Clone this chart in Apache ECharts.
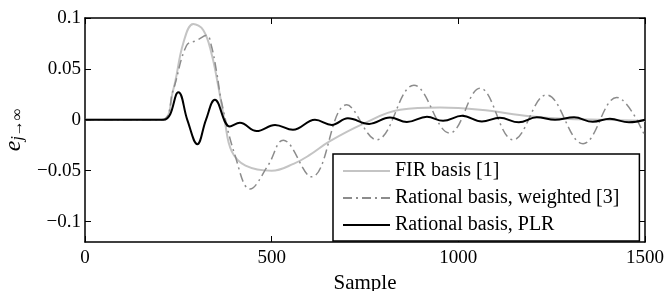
<!DOCTYPE html>
<html>
<head>
<meta charset="utf-8">
<script src="https://cdn.jsdelivr.net/npm/echarts@6/dist/echarts.min.js"></script>
<style>
  html, body { margin: 0; padding: 0; background: #fff; }
  #chart { width: 667px; height: 291px; }
</style>
</head>
<body>
<div id="chart"></div>
<script>
// x ticks / y ticks
const xTicks = [0, 500, 1000, 1500];
const yTicks = [-0.1, -0.05, 0, 0.05, 0.1];

// FIR basis [1]
const firX = [0, 205, 236, 263, 290, 317, 339, 357, 375, 393, 430, 500, 560, 600, 656, 745, 844, 951, 1058, 1192, 1280, 1400, 1500];
const firY = [0, 0, 0.029, 0.075, 0.094, 0.088, 0.065, 0.033, -0.003, -0.031, -0.045, -0.050, -0.043, -0.035, -0.021, -0.004, 0.0098, 0.012, 0.0098, 0.0035, 0.001, 0, -0.001];

// Rational basis, weighted [3]
const wX = [0, 205, 236, 272, 299, 326, 339, 353, 366, 402, 442, 490, 531, 607, 701, 781, 881, 977, 1058, 1147, 1236, 1334, 1424, 1500];
const wY = [0, 0, 0.029, 0.073, 0.078, 0.083, 0.072, 0.046, 0.017, -0.035, -0.068, -0.045, -0.020, -0.056, 0.0147, -0.0196, 0.034, -0.013, 0.031, -0.0196, 0.0245, -0.0235, 0.022, -0.016];

// Rational basis, PLR
const plrX = [0, 210, 250, 274, 301, 324, 348, 388, 415, 460, 509, 557, 616, 661, 704, 761, 817, 862, 916, 959, 1010, 1063, 1111, 1162, 1210, 1259, 1310, 1360, 1406, 1457, 1500];
const plrY = [0, 0, 0.027, 0, -0.024, 0, 0.0196, -0.0065, -0.003, -0.011, -0.005, -0.0098, 0, -0.005, 0.0015, -0.004, 0.0023, -0.0022, 0.003, -0.001, 0.0039, -0.0017, 0.002, -0.0025, 0.0025, 0, 0.0025, -0.002, 0.001, -0.0025, 0];

const zip = (xs, ys) => xs.map((x, i) => [x, ys[i]]);

const serif = '"Liberation Serif", "DejaVu Serif", serif';
const fmtY = v => (v === 0 ? '0' : String(+v.toFixed(2)).replace('-', '\u2212'));
const fmtX = v => String(Math.round(v));

const chart = echarts.init(document.getElementById('chart'));

const axisLine = { show: true, onZero: false, lineStyle: { color: '#000', width: 1.5 } };
const tick = { show: true, inside: true, length: 6, lineStyle: { color: '#000', width: 1 } };

const option = {
  animation: false,
  backgroundColor: '#fff',
  grid: { left: 85, right: 22, top: 18, bottom: 49, containLabel: false, outerBoundsMode: 'none' },
  xAxis: [{
    type: 'value', min: 0, max: 1500, interval: 500,
    name: 'Sample', nameLocation: 'middle', nameGap: 24,
    nameTextStyle: { fontFamily: serif, fontSize: 21, color: '#000' },
    axisLine: axisLine,
    axisTick: tick,
    axisLabel: { color: '#000', fontFamily: serif, fontSize: 19, margin: 7,
      customValues: xTicks, formatter: fmtX },
    splitLine: { show: false }
  }, {
    type: 'value', min: 0, max: 1500, interval: 500, position: 'top',
    axisLine: axisLine, axisTick: tick,
    axisLabel: { show: false }, splitLine: { show: false }
  }],
  yAxis: [{
    type: 'value', min: -0.12, max: 0.1,
    name: '{e|e}{s|j\u2192\u221e}', nameLocation: 'middle', nameGap: 58, nameRotate: 90,
    nameTextStyle: {
      color: '#000',
      rich: {
        e: { fontFamily: serif, fontStyle: 'italic', fontSize: 24, lineHeight: 24, color: '#000' },
        s: { fontFamily: serif, fontStyle: 'italic', fontSize: 16, lineHeight: 16, verticalAlign: 'bottom', color: '#000' }
      }
    },
    axisLine: axisLine,
    axisTick: Object.assign({}, tick, { customValues: yTicks }),
    axisLabel: { color: '#000', fontFamily: serif, fontSize: 19, margin: 4,
      customValues: yTicks, formatter: fmtY },
    splitLine: { show: false }
  }, {
    type: 'value', min: -0.12, max: 0.1, position: 'right',
    axisLine: axisLine,
    axisTick: Object.assign({}, tick, { customValues: yTicks }),
    axisLabel: { show: false }, splitLine: { show: false }
  }],
  legend: {
    orient: 'vertical',
    left: 333, top: 154,
    padding: [7, 20, 6, 9],
    itemWidth: 47, itemHeight: 14, itemGap: 7,
    itemStyle: { opacity: 0 },
    backgroundColor: '#fff',
    borderColor: '#000', borderWidth: 1.5,
    textStyle: { fontFamily: serif, fontSize: 20, color: '#000' },
    data: ['FIR basis [1]', 'Rational basis, weighted [3]', 'Rational basis, PLR']
  },
  series: [{
    name: 'FIR basis [1]', type: 'line', smooth: 0.4, symbol: 'none',
    data: zip(firX, firY),
    lineStyle: { color: '#c4c4c4', width: 2 }, itemStyle: { color: '#c4c4c4' }
  }, {
    name: 'Rational basis, weighted [3]', type: 'line', smooth: 0.4, symbol: 'none',
    data: zip(wX, wY),
    lineStyle: { color: '#8c8c8c', width: 1.5, type: [9, 4, 2, 4] }, itemStyle: { color: '#8c8c8c' }
  }, {
    name: 'Rational basis, PLR', type: 'line', smooth: 0.4, symbol: 'none',
    data: zip(plrX, plrY),
    lineStyle: { color: '#000', width: 2 }, itemStyle: { color: '#000' }
  }]
};

chart.setOption(option);
</script>
</body>
</html>
